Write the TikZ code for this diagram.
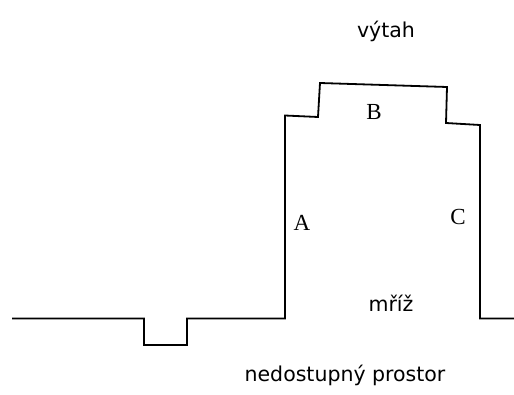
\documentclass[tikz,border=0pt]{standalone}
\usepackage{fontspec}
\setmainfont{DejaVu Sans}
\newfontfamily\letterfont{Liberation Serif}
\usetikzlibrary{positioning}
\tikzset{
    outline/.style={draw=black,line width=1.8pt,line join=miter},
    roomlabel/.style={inner sep=0pt,font=\fontsize{20.5}{24}\selectfont},
    wall/.style={inner sep=0pt,font=\letterfont\fontsize{23}{27}\selectfont}
}
\begin{document}
\begin{tikzpicture}[x=1pt,y=-1pt]
        \useasboundingbox (0,0) rectangle (514,395);
        \draw[outline] (12,318.5) -- (144,318.5) -- (144,345) -- (187,345) -- (187,318.5)
            -- (285,318.5) -- (285,115.5) -- (318,117) -- (320,83) -- (447,87)
            -- (446,123) -- (480,125) -- (480,318.5) -- (514,318.5);
        \node[roomlabel] (vytah) at (386,31) {výtah};
        \node[roomlabel] (mriz) at (391,303) {mříž};
        \node[roomlabel] (prostor) at (345,375) {nedostupný prostor};
        \node[wall] (a) at (302,223) {A};
        \node[wall] (b) at (374,112) {B};
        \node[wall] (c) at (458,217) {C};
    \end{tikzpicture}
\end{document}
